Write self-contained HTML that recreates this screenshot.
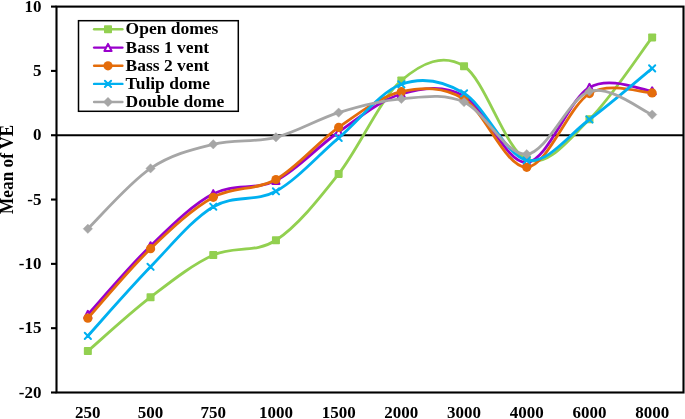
<!DOCTYPE html>
<html><head><meta charset="utf-8"><style>
html,body{margin:0;padding:0;background:#fff;}
svg{display:block;will-change:transform;}
.t{font-family:"Liberation Serif",serif;font-weight:bold;font-size:17px;fill:#000;}
.lg{font-family:"Liberation Serif",serif;font-weight:bold;font-size:17.5px;fill:#000;}
.yt{font-family:"Liberation Serif",serif;font-weight:bold;font-size:17.3px;fill:#000;}
</style></head><body>
<svg width="685" height="419" viewBox="0 0 685 419">
<rect x="56.50" y="6.60" width="627.00" height="385.90" fill="none" stroke="#000" stroke-width="2.1"/>
<line x1="51" y1="6.60" x2="56.50" y2="6.60" stroke="#000" stroke-width="2.1"/>
<text transform="translate(41.5,11.70) scale(1,1.001)" text-anchor="end" class="t">10</text>
<line x1="51" y1="70.92" x2="56.50" y2="70.92" stroke="#000" stroke-width="2.1"/>
<text transform="translate(41.5,76.02) scale(1,1.001)" text-anchor="end" class="t">5</text>
<line x1="51" y1="135.23" x2="56.50" y2="135.23" stroke="#000" stroke-width="2.1"/>
<text transform="translate(41.5,140.33) scale(1,1.001)" text-anchor="end" class="t">0</text>
<line x1="51" y1="199.55" x2="56.50" y2="199.55" stroke="#000" stroke-width="2.1"/>
<text transform="translate(41.5,204.65) scale(1,1.001)" text-anchor="end" class="t">-5</text>
<line x1="51" y1="263.87" x2="56.50" y2="263.87" stroke="#000" stroke-width="2.1"/>
<text transform="translate(41.5,268.97) scale(1,1.001)" text-anchor="end" class="t">-10</text>
<line x1="51" y1="328.18" x2="56.50" y2="328.18" stroke="#000" stroke-width="2.1"/>
<text transform="translate(41.5,333.28) scale(1,1.001)" text-anchor="end" class="t">-15</text>
<line x1="51" y1="392.50" x2="56.50" y2="392.50" stroke="#000" stroke-width="2.1"/>
<text transform="translate(41.5,397.60) scale(1,1.001)" text-anchor="end" class="t">-20</text>
<line x1="56.50" y1="135.23" x2="683.50" y2="135.23" stroke="#000" stroke-width="2.1"/>
<text transform="translate(87.85,418.2) scale(1,1.001)" text-anchor="middle" class="t">250</text>
<text transform="translate(150.55,418.2) scale(1,1.001)" text-anchor="middle" class="t">500</text>
<text transform="translate(213.25,418.2) scale(1,1.001)" text-anchor="middle" class="t">750</text>
<text transform="translate(275.95,418.2) scale(1,1.001)" text-anchor="middle" class="t">1000</text>
<text transform="translate(338.65,418.2) scale(1,1.001)" text-anchor="middle" class="t">1500</text>
<text transform="translate(401.35,418.2) scale(1,1.001)" text-anchor="middle" class="t">2000</text>
<text transform="translate(464.05,418.2) scale(1,1.001)" text-anchor="middle" class="t">3000</text>
<text transform="translate(526.75,418.2) scale(1,1.001)" text-anchor="middle" class="t">4000</text>
<text transform="translate(589.45,418.2) scale(1,1.001)" text-anchor="middle" class="t">6000</text>
<text transform="translate(652.15,418.2) scale(1,1.001)" text-anchor="middle" class="t">8000</text>
<path d="M87.85,351.10 C98.30,342.12 129.65,313.20 150.55,297.20 C171.45,281.20 192.35,264.60 213.25,255.10 C234.15,245.60 255.05,253.73 275.95,240.20 C296.85,226.67 317.75,200.52 338.65,173.90 C359.55,147.28 380.45,98.43 401.35,80.50 C422.25,62.57 443.15,53.13 464.05,66.30 C484.95,79.47 505.85,150.67 526.75,159.50 C547.65,168.33 568.55,139.65 589.45,119.30 C610.35,98.95 641.70,51.05 652.15,37.40" fill="none" stroke="#92D050" stroke-width="2.80" stroke-linejoin="round" stroke-linecap="round"/>
<rect x="83.85" y="347.10" width="8.00" height="8.00" rx="0.8" fill="#92D050"/>
<rect x="146.55" y="293.20" width="8.00" height="8.00" rx="0.8" fill="#92D050"/>
<rect x="209.25" y="251.10" width="8.00" height="8.00" rx="0.8" fill="#92D050"/>
<rect x="271.95" y="236.20" width="8.00" height="8.00" rx="0.8" fill="#92D050"/>
<rect x="334.65" y="169.90" width="8.00" height="8.00" rx="0.8" fill="#92D050"/>
<rect x="397.35" y="76.50" width="8.00" height="8.00" rx="0.8" fill="#92D050"/>
<rect x="460.05" y="62.30" width="8.00" height="8.00" rx="0.8" fill="#92D050"/>
<rect x="522.75" y="155.50" width="8.00" height="8.00" rx="0.8" fill="#92D050"/>
<rect x="585.45" y="115.30" width="8.00" height="8.00" rx="0.8" fill="#92D050"/>
<rect x="648.15" y="33.40" width="8.00" height="8.00" rx="0.8" fill="#92D050"/>
<path d="M87.85,314.50 C98.30,303.07 129.65,266.02 150.55,245.90 C171.45,225.78 192.35,204.70 213.25,193.80 C234.15,182.90 255.05,190.80 275.95,180.50 C296.85,170.20 317.75,146.42 338.65,132.00 C359.55,117.58 380.45,100.00 401.35,94.00 C422.25,88.00 443.15,84.58 464.05,96.00 C484.95,107.42 505.85,163.92 526.75,162.50 C547.65,161.08 568.55,99.42 589.45,87.50 C610.35,75.58 641.70,90.42 652.15,91.00" fill="none" stroke="#9900CC" stroke-width="2.80" stroke-linejoin="round" stroke-linecap="round"/>
<path d="M87.85,310.80 L91.45,317.90 L84.25,317.90 Z" fill="#fff" stroke="#9900CC" stroke-width="2" stroke-linejoin="round"/>
<path d="M150.55,242.20 L154.15,249.30 L146.95,249.30 Z" fill="#fff" stroke="#9900CC" stroke-width="2" stroke-linejoin="round"/>
<path d="M213.25,190.10 L216.85,197.20 L209.65,197.20 Z" fill="#fff" stroke="#9900CC" stroke-width="2" stroke-linejoin="round"/>
<path d="M275.95,176.80 L279.55,183.90 L272.35,183.90 Z" fill="#fff" stroke="#9900CC" stroke-width="2" stroke-linejoin="round"/>
<path d="M338.65,128.30 L342.25,135.40 L335.05,135.40 Z" fill="#fff" stroke="#9900CC" stroke-width="2" stroke-linejoin="round"/>
<path d="M401.35,90.30 L404.95,97.40 L397.75,97.40 Z" fill="#fff" stroke="#9900CC" stroke-width="2" stroke-linejoin="round"/>
<path d="M464.05,92.30 L467.65,99.40 L460.45,99.40 Z" fill="#fff" stroke="#9900CC" stroke-width="2" stroke-linejoin="round"/>
<path d="M526.75,158.80 L530.35,165.90 L523.15,165.90 Z" fill="#fff" stroke="#9900CC" stroke-width="2" stroke-linejoin="round"/>
<path d="M589.45,83.80 L593.05,90.90 L585.85,90.90 Z" fill="#fff" stroke="#9900CC" stroke-width="2" stroke-linejoin="round"/>
<path d="M652.15,87.30 L655.75,94.40 L648.55,94.40 Z" fill="#fff" stroke="#9900CC" stroke-width="2" stroke-linejoin="round"/>
<path d="M87.85,318.20 C98.30,306.62 129.65,268.85 150.55,248.70 C171.45,228.55 192.35,208.83 213.25,197.30 C234.15,185.77 255.05,191.15 275.95,179.50 C296.85,167.85 317.75,142.03 338.65,127.40 C359.55,112.77 380.45,96.43 401.35,91.70 C422.25,86.97 443.15,86.40 464.05,99.00 C484.95,111.60 505.85,168.20 526.75,167.30 C547.65,166.40 568.55,106.00 589.45,93.60 C610.35,81.20 641.70,93.02 652.15,92.90" fill="none" stroke="#E46C0A" stroke-width="2.80" stroke-linejoin="round" stroke-linecap="round"/>
<circle cx="87.85" cy="318.20" r="4.60" fill="#E46C0A"/>
<circle cx="150.55" cy="248.70" r="4.60" fill="#E46C0A"/>
<circle cx="213.25" cy="197.30" r="4.60" fill="#E46C0A"/>
<circle cx="275.95" cy="179.50" r="4.60" fill="#E46C0A"/>
<circle cx="338.65" cy="127.40" r="4.60" fill="#E46C0A"/>
<circle cx="401.35" cy="91.70" r="4.60" fill="#E46C0A"/>
<circle cx="464.05" cy="99.00" r="4.60" fill="#E46C0A"/>
<circle cx="526.75" cy="167.30" r="4.60" fill="#E46C0A"/>
<circle cx="589.45" cy="93.60" r="4.60" fill="#E46C0A"/>
<circle cx="652.15" cy="92.90" r="4.60" fill="#E46C0A"/>
<path d="M87.85,335.90 C98.30,324.38 129.65,288.33 150.55,266.80 C171.45,245.27 192.35,219.28 213.25,206.70 C234.15,194.12 255.05,202.77 275.95,191.30 C296.85,179.83 317.75,155.73 338.65,137.90 C359.55,120.07 380.45,91.73 401.35,84.30 C422.25,76.87 443.15,80.63 464.05,93.30 C484.95,105.97 505.85,155.93 526.75,160.30 C547.65,164.67 568.55,134.82 589.45,119.50 C610.35,104.18 641.70,76.92 652.15,68.40" fill="none" stroke="#00B0F0" stroke-width="2.80" stroke-linejoin="round" stroke-linecap="round"/>
<path d="M84.75,332.80 L90.95,339.00 M84.75,339.00 L90.95,332.80" stroke="#00B0F0" stroke-width="2" stroke-linecap="round" fill="none"/>
<path d="M147.45,263.70 L153.65,269.90 M147.45,269.90 L153.65,263.70" stroke="#00B0F0" stroke-width="2" stroke-linecap="round" fill="none"/>
<path d="M210.15,203.60 L216.35,209.80 M210.15,209.80 L216.35,203.60" stroke="#00B0F0" stroke-width="2" stroke-linecap="round" fill="none"/>
<path d="M272.85,188.20 L279.05,194.40 M272.85,194.40 L279.05,188.20" stroke="#00B0F0" stroke-width="2" stroke-linecap="round" fill="none"/>
<path d="M335.55,134.80 L341.75,141.00 M335.55,141.00 L341.75,134.80" stroke="#00B0F0" stroke-width="2" stroke-linecap="round" fill="none"/>
<path d="M398.25,81.20 L404.45,87.40 M398.25,87.40 L404.45,81.20" stroke="#00B0F0" stroke-width="2" stroke-linecap="round" fill="none"/>
<path d="M460.95,90.20 L467.15,96.40 M460.95,96.40 L467.15,90.20" stroke="#00B0F0" stroke-width="2" stroke-linecap="round" fill="none"/>
<path d="M523.65,157.20 L529.85,163.40 M523.65,163.40 L529.85,157.20" stroke="#00B0F0" stroke-width="2" stroke-linecap="round" fill="none"/>
<path d="M586.35,116.40 L592.55,122.60 M586.35,122.60 L592.55,116.40" stroke="#00B0F0" stroke-width="2" stroke-linecap="round" fill="none"/>
<path d="M649.05,65.30 L655.25,71.50 M649.05,71.50 L655.25,65.30" stroke="#00B0F0" stroke-width="2" stroke-linecap="round" fill="none"/>
<path d="M87.85,228.80 C98.30,218.73 129.65,182.48 150.55,168.40 C171.45,154.32 192.35,149.48 213.25,144.30 C234.15,139.12 255.05,142.58 275.95,137.30 C296.85,132.02 317.75,119.00 338.65,112.60 C359.55,106.20 380.45,100.65 401.35,98.90 C422.25,97.15 443.15,92.88 464.05,102.10 C484.95,111.32 505.85,155.98 526.75,154.20 C547.65,152.42 568.55,98.00 589.45,91.40 C610.35,84.80 641.70,110.73 652.15,114.60" fill="none" stroke="#A6A6A6" stroke-width="2.80" stroke-linejoin="round" stroke-linecap="round"/>
<path d="M87.85,224.10 L92.55,228.80 L87.85,233.50 L83.15,228.80 Z" fill="#A6A6A6" stroke="#A6A6A6" stroke-width="0.4" stroke-linejoin="round"/>
<path d="M150.55,163.70 L155.25,168.40 L150.55,173.10 L145.85,168.40 Z" fill="#A6A6A6" stroke="#A6A6A6" stroke-width="0.4" stroke-linejoin="round"/>
<path d="M213.25,139.60 L217.95,144.30 L213.25,149.00 L208.55,144.30 Z" fill="#A6A6A6" stroke="#A6A6A6" stroke-width="0.4" stroke-linejoin="round"/>
<path d="M275.95,132.60 L280.65,137.30 L275.95,142.00 L271.25,137.30 Z" fill="#A6A6A6" stroke="#A6A6A6" stroke-width="0.4" stroke-linejoin="round"/>
<path d="M338.65,107.90 L343.35,112.60 L338.65,117.30 L333.95,112.60 Z" fill="#A6A6A6" stroke="#A6A6A6" stroke-width="0.4" stroke-linejoin="round"/>
<path d="M401.35,94.20 L406.05,98.90 L401.35,103.60 L396.65,98.90 Z" fill="#A6A6A6" stroke="#A6A6A6" stroke-width="0.4" stroke-linejoin="round"/>
<path d="M464.05,97.40 L468.75,102.10 L464.05,106.80 L459.35,102.10 Z" fill="#A6A6A6" stroke="#A6A6A6" stroke-width="0.4" stroke-linejoin="round"/>
<path d="M526.75,149.50 L531.45,154.20 L526.75,158.90 L522.05,154.20 Z" fill="#A6A6A6" stroke="#A6A6A6" stroke-width="0.4" stroke-linejoin="round"/>
<path d="M589.45,86.70 L594.15,91.40 L589.45,96.10 L584.75,91.40 Z" fill="#A6A6A6" stroke="#A6A6A6" stroke-width="0.4" stroke-linejoin="round"/>
<path d="M652.15,109.90 L656.85,114.60 L652.15,119.30 L647.45,114.60 Z" fill="#A6A6A6" stroke="#A6A6A6" stroke-width="0.4" stroke-linejoin="round"/>
<rect x="78.5" y="20.7" width="159.8" height="90.6" fill="#fff" stroke="#000" stroke-width="1.5"/>
<line x1="94.1" y1="29.30" x2="122.4" y2="29.30" stroke="#92D050" stroke-width="2.4" stroke-linecap="round"/>
<rect x="104.00" y="25.30" width="8.00" height="8.00" rx="0.8" fill="#92D050"/>
<text transform="translate(125.6,34.40) scale(1,1.001)" class="lg">Open domes</text>
<line x1="94.1" y1="47.60" x2="122.4" y2="47.60" stroke="#9900CC" stroke-width="2.4" stroke-linecap="round"/>
<path d="M108.00,43.90 L111.60,51.00 L104.40,51.00 Z" fill="#fff" stroke="#9900CC" stroke-width="2" stroke-linejoin="round"/>
<text transform="translate(125.6,52.70) scale(1,1.001)" class="lg">Bass 1 vent</text>
<line x1="94.1" y1="65.80" x2="122.4" y2="65.80" stroke="#E46C0A" stroke-width="2.4" stroke-linecap="round"/>
<circle cx="108.00" cy="65.80" r="4.60" fill="#E46C0A"/>
<text transform="translate(125.6,70.90) scale(1,1.001)" class="lg">Bass 2 vent</text>
<line x1="94.1" y1="83.90" x2="122.4" y2="83.90" stroke="#00B0F0" stroke-width="2.4" stroke-linecap="round"/>
<path d="M104.90,80.80 L111.10,87.00 M104.90,87.00 L111.10,80.80" stroke="#00B0F0" stroke-width="2" stroke-linecap="round" fill="none"/>
<text transform="translate(125.6,89.00) scale(1,1.001)" class="lg">Tulip dome</text>
<line x1="94.1" y1="102.00" x2="122.4" y2="102.00" stroke="#A6A6A6" stroke-width="2.4" stroke-linecap="round"/>
<path d="M108.00,97.30 L112.70,102.00 L108.00,106.70 L103.30,102.00 Z" fill="#A6A6A6" stroke="#A6A6A6" stroke-width="0.4" stroke-linejoin="round"/>
<text transform="translate(125.6,107.10) scale(1,1.001)" class="lg">Double dome</text>
<text transform="translate(13,169.5) rotate(-90) scale(1,1.07)" text-anchor="middle" class="yt">Mean of VE</text>
</svg>
</body></html>
